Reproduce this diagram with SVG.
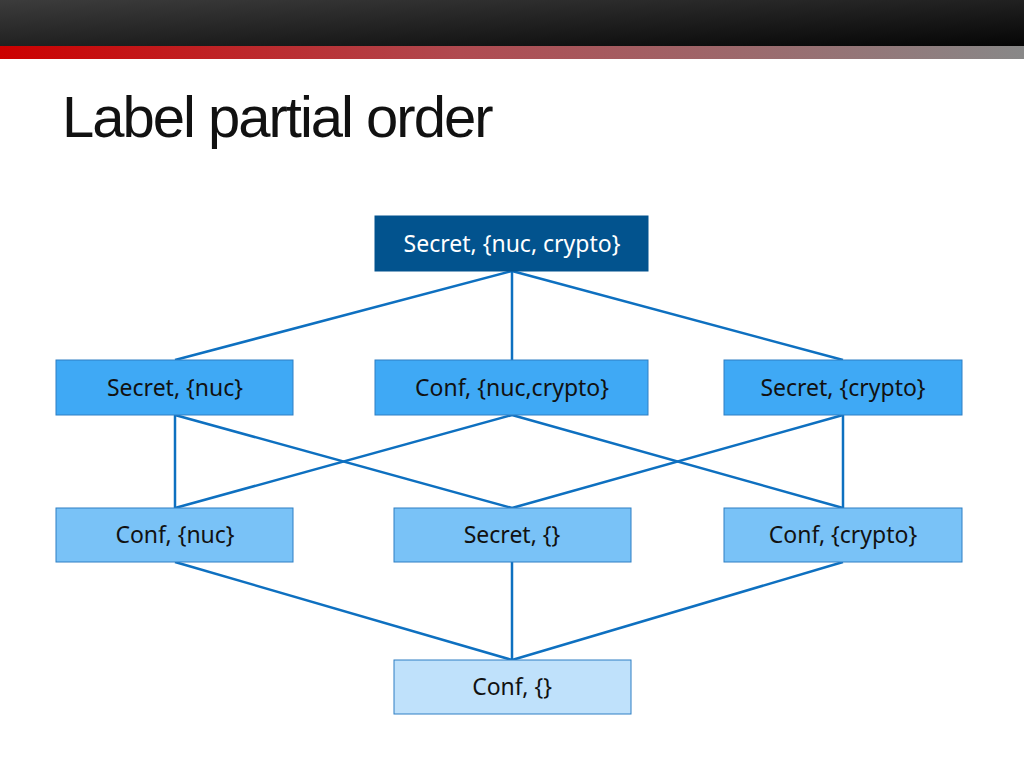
<svg xmlns="http://www.w3.org/2000/svg" width="1024" height="768" viewBox="0 0 1024 768">
<defs>
<linearGradient id="dark" x1="0" y1="0" x2="1" y2="1"><stop offset="0" stop-color="#3c3c3c"/><stop offset="1" stop-color="#050505"/></linearGradient>
<linearGradient id="red" x1="0" y1="0" x2="1" y2="0"><stop offset="0" stop-color="#cc0000"/><stop offset="0.45" stop-color="#b04a50"/><stop offset="1" stop-color="#888888"/></linearGradient>
<style>
.n{stroke:#2e7fc4;stroke-width:1}
.t{font-family:"Noto Sans","Open Sans",sans-serif;font-size:23px;text-anchor:middle;fill:#111}
.c line{stroke:#0e70c0;stroke-width:2.5}
</style>
</defs>
<rect width="1024" height="768" fill="#fff"/>
<rect width="1024" height="47" fill="url(#dark)"/>
<rect y="46" width="1024" height="13" fill="url(#red)"/>
<text x="62" y="137" font-family="Liberation Sans, Arial, sans-serif" font-size="58" letter-spacing="-2" fill="#111">Label partial order</text>
<g class="c">
<line x1="512" y1="271" x2="175" y2="360"/><line x1="512" y1="271" x2="512" y2="360"/><line x1="512" y1="271" x2="843" y2="360"/>
<line x1="175" y1="415" x2="175" y2="508"/><line x1="175" y1="415" x2="512" y2="508"/>
<line x1="512" y1="415" x2="175" y2="508"/><line x1="512" y1="415" x2="843" y2="508"/>
<line x1="843" y1="415" x2="512" y2="508"/><line x1="843" y1="415" x2="843" y2="508"/>
<line x1="175" y1="562" x2="512" y2="660"/><line x1="512" y1="562" x2="512" y2="660"/><line x1="843" y1="562" x2="512" y2="660"/>
</g>
<g id="top"><rect x="375" y="216" width="273" height="55" fill="#02538e" stroke="#02538e"/><text class="t" x="512" y="252" style="fill:#fff">Secret, {nuc, crypto}</text></g>
<g id="sn"><rect class="n" x="56" y="360" width="237" height="55" fill="#3fa9f5"/><text class="t" x="175" y="396">Secret, {nuc}</text></g>
<g id="cnc"><rect class="n" x="375" y="360" width="273" height="55" fill="#3fa9f5"/><text class="t" x="512" y="396">Conf, {nuc,crypto}</text></g>
<g id="sc"><rect class="n" x="724" y="360" width="238" height="55" fill="#3fa9f5"/><text class="t" x="843" y="396">Secret, {crypto}</text></g>
<g id="cn"><rect class="n" x="56" y="508" width="237" height="54" fill="#79c2f7"/><text class="t" x="175" y="543">Conf, {nuc}</text></g>
<g id="s"><rect class="n" x="394" y="508" width="237" height="54" fill="#79c2f7"/><text class="t" x="512" y="543">Secret, {}</text></g>
<g id="cc"><rect class="n" x="724" y="508" width="238" height="54" fill="#79c2f7"/><text class="t" x="843" y="543">Conf, {crypto}</text></g>
<g id="c"><rect class="n" x="394" y="660" width="237" height="54" fill="#bfe1fb"/><text class="t" x="512" y="695">Conf, {}</text></g>
</svg>
